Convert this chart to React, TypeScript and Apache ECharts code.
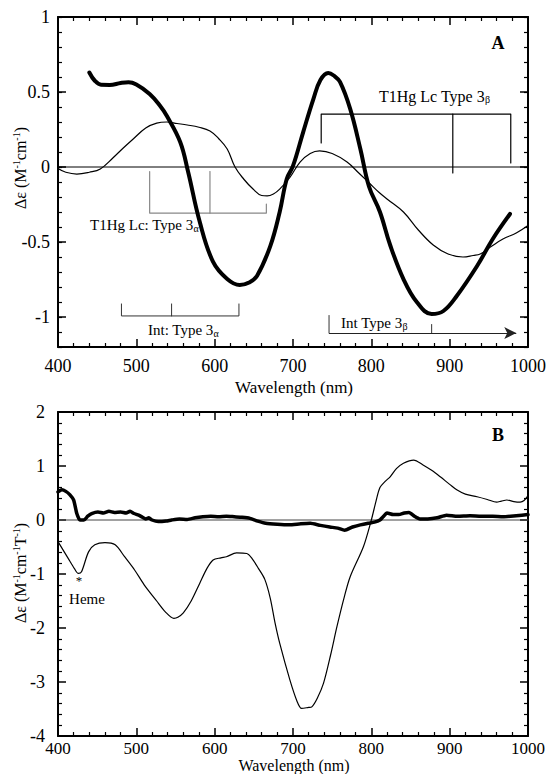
import React, { useEffect, useRef } from "react";
import * as echarts from "echarts";

// ---------- Data ----------
const xTicks = [400, 500, 600, 700, 800, 900, 1000];
const yTicksA = [-1, -0.5, 0, 0.5, 1];

// Panel A: thick curve
const thickA: number[][] = [
  [440, 0.63], [447, 0.575], [455, 0.548], [466, 0.547], [480, 0.56], [490, 0.565], [500, 0.55],
  [517, 0.487], [530, 0.41], [539, 0.34], [556, 0.167], [566, -0.03], [581, -0.367], [598, -0.633],
  [616, -0.747], [632, -0.787], [644, -0.77], [654, -0.727], [671, -0.527], [683, -0.3], [692, -0.08],
  [700, 0.007], [713, 0.233], [726, 0.453], [735, 0.58], [745, 0.627], [752, 0.61], [760, 0.567],
  [773, 0.387], [786, 0.12], [797, -0.13], [811, -0.3], [824, -0.52], [841, -0.747], [858, -0.9],
  [877, -0.98], [892, -0.96], [909, -0.86], [935, -0.66], [955, -0.48], [977, -0.313],
];

// Panel A: thin curve
const thinA: number[][] = [
  [400, -0.01], [410, -0.035], [424, -0.047], [440, -0.035], [454, -0.013], [470, 0.06], [484, 0.13],
  [496, 0.187], [512, 0.26], [526, 0.293], [539, 0.3], [552, 0.29], [565, 0.28], [580, 0.265],
  [594, 0.24], [605, 0.19], [616, 0.12], [626, 0.0], [637, -0.08], [649, -0.147], [660, -0.19],
  [667, -0.193], [675, -0.18], [683, -0.147], [696, -0.07], [709, 0.033], [722, 0.09], [734, 0.107],
  [750, 0.09], [769, 0.033], [784, -0.04], [798, -0.11], [810, -0.17], [820, -0.213], [841, -0.3],
  [860, -0.42], [879, -0.52], [898, -0.58], [917, -0.6], [930, -0.59], [939, -0.58], [953, -0.53],
  [968, -0.48], [985, -0.44], [1000, -0.39],
];

// Panel B: thin curve
const thinB: number[][] = [
  [400, -0.4], [413, -0.71], [421, -0.9], [426, -0.99], [430, -0.96], [439, -0.59], [447, -0.46],
  [460, -0.42], [473, -0.46], [485, -0.68], [498, -0.93], [510, -1.2], [526, -1.5], [537, -1.7],
  [548, -1.82], [553, -1.8], [560, -1.72], [570, -1.5], [581, -1.17], [590, -0.9], [598, -0.74],
  [608, -0.7], [615, -0.68], [628, -0.61], [641, -0.62], [648, -0.72], [656, -0.9], [664, -1.1],
  [671, -1.45], [677, -1.9], [683, -2.28], [696, -2.96], [705, -3.35], [711, -3.49],
  [720, -3.47], [724, -3.46], [731, -3.3], [739, -3.02], [748, -2.5], [756, -1.98], [765, -1.45],
  [773, -1.05], [790, -0.49], [800, 0], [806, 0.35], [811, 0.6], [818, 0.72], [824, 0.8], [832, 0.95],
  [841, 1.05], [854, 1.11], [866, 1.02], [877, 0.92], [888, 0.8], [900, 0.66], [909, 0.56], [920, 0.48],
  [935, 0.43], [948, 0.38], [960, 0.33], [966, 0.35], [973, 0.37], [982, 0.34], [990, 0.33],
  [995, 0.36], [1000, 0.45],
];

// Panel B: thick curve
const thickB: number[][] = [
  [400, 0.52], [405, 0.56], [410, 0.53], [415, 0.47], [420, 0.37], [424, 0.12], [428, 0.0], [433, 0.0],
  [438, 0.07], [443, 0.12], [451, 0.15], [458, 0.13], [465, 0.16], [472, 0.14], [480, 0.15], [487, 0.13],
  [492, 0.16], [497, 0.12], [503, 0.09], [508, 0.05], [512, 0.02], [516, 0.04], [520, 0.0], [528, -0.03],
  [538, -0.02], [545, 0.0], [555, 0.02], [565, 0.01], [575, 0.04], [585, 0.06], [595, 0.07], [605, 0.06],
  [615, 0.07], [625, 0.06], [635, 0.05], [645, 0.03], [655, -0.02], [665, -0.06], [680, -0.08],
  [695, -0.09], [710, -0.07], [722, -0.06], [735, -0.1], [747, -0.13], [757, -0.15], [766, -0.19],
  [776, -0.13], [786, -0.09], [796, -0.06], [804, -0.04], [811, 0.0], [815, 0.06], [820, 0.13],
  [828, 0.1], [835, 0.1], [842, 0.13], [848, 0.14], [855, 0.07], [862, 0.02], [872, 0.02], [884, 0.04],
  [896, 0.09], [910, 0.07], [926, 0.08], [940, 0.07], [955, 0.07], [968, 0.06], [985, 0.08], [1000, 0.1],
];

const zeroLine: number[][] = [[400, 0], [1000, 0]];

// Annotation brackets (panel A, data coordinates)
const lcBeta: number[][] = [[736, 0.16], [736, 0.353], [978, 0.353], [978, 0.027]];
const lcBetaMid: number[][] = [[904, 0.353], [904, -0.04]];
const lcAlpha: number[][] = [[517, -0.03], [517, -0.307], [666, -0.307], [666, -0.247]];
const lcAlphaMid: number[][] = [[594, -0.03], [594, -0.307]];
const intAlpha: number[][] = [[481, -0.913], [481, -0.993], [631, -0.993], [631, -0.913]];
const intAlphaMid: number[][] = [[545, -0.913], [545, -0.993]];
const intBetaLeft: number[][] = [[746, -0.99], [746, -1.107]];
const intBetaMid: number[][] = [[877, -1.05], [877, -1.107]];
const intBetaArrow: number[][] = [[746, -1.107], [985, -1.107]];

const FONT = "Times New Roman, Liberation Serif, serif";

export default function App() {
  const ref = useRef<HTMLDivElement>(null);

  useEffect(() => {
    if (!ref.current) return;
    const chart = echarts.init(ref.current, null, { renderer: "svg" });

    const xAx = (grid: number, pos: "bottom" | "top", labels: boolean, margin: number, size = 18) => ({
      type: "value",
      gridIndex: grid,
      position: pos,
      min: xTicks[0],
      max: xTicks[xTicks.length - 1],
      interval: 100,
      axisLine: { show: true, onZero: false, lineStyle: { color: "#000", width: 2 } },
      axisTick: { show: true, inside: true, length: 8, lineStyle: { color: "#000", width: 1.5 } },
      minorTick: { show: true, splitNumber: 5, length: 4, lineStyle: { color: "#000", width: 1.2 } },
      axisLabel: {
        show: labels,
        color: "#000",
        fontFamily: FONT,
        fontSize: size,
        margin,
        formatter: (v: number) => String(v),
      },
      splitLine: { show: false },
    });

    const yAxA = (pos: "left" | "right", labels: boolean) => ({
      type: "value",
      gridIndex: 0,
      position: pos,
      min: -1.2,
      max: 1,
      axisLine: { show: true, onZero: false, lineStyle: { color: "#000", width: 2 } },
      axisTick: { show: true, inside: true, length: 8, customValues: yTicksA, lineStyle: { color: "#000", width: 1.5 } },
      axisLabel: {
        show: labels,
        customValues: yTicksA,
        color: "#000",
        fontFamily: FONT,
        fontSize: 18,
        margin: 8,
        formatter: (v: number) => String(v),
      },
      splitLine: { show: false },
    });
    const yAxAMinor = (pos: "left" | "right") => ({
      type: "value",
      gridIndex: 0,
      position: pos,
      min: -1.2,
      max: 1,
      interval: 0.1,
      axisLine: { show: false },
      axisTick: { show: true, inside: true, length: 4, lineStyle: { color: "#000", width: 1.2 } },
      axisLabel: { show: false },
      splitLine: { show: false },
    });
    const yAxB = (pos: "left" | "right", labels: boolean) => ({
      type: "value",
      gridIndex: 1,
      position: pos,
      min: -4,
      max: 2,
      interval: 1,
      axisLine: { show: true, onZero: false, lineStyle: { color: "#000", width: 2 } },
      axisTick: { show: true, inside: true, length: 8, lineStyle: { color: "#000", width: 1.5 } },
      minorTick: { show: true, splitNumber: 5, length: 4, lineStyle: { color: "#000", width: 1.2 } },
      axisLabel: { show: labels, color: "#000", fontFamily: FONT, fontSize: 18, margin: 13 },
      splitLine: { show: false },
    });

    const line = (data: number[][], xi: number, yi: number, width: number, color = "#000", smooth: boolean | number = false, z = 3) => ({
      type: "line",
      xAxisIndex: xi,
      yAxisIndex: yi,
      data,
      symbol: "none",
      smooth,
      silent: true,
      z,
      lineStyle: { color, width, cap: "round", join: "round" },
    });

    const sub = { fontSize: 10, fontFamily: FONT, color: "#000", verticalAlign: "bottom", padding: [7, 0, 0, 0] };
    const sup = { fontSize: 10, fontFamily: FONT, color: "#000", verticalAlign: "top", padding: [0, 0, 7, 0] };
    const norm = (size: number) => ({ fontSize: size, fontFamily: FONT, color: "#000" });

    const txt = (x: number, y: number, text: string, size: number, align = "left", extra: any = {}) => ({
      type: "text",
      x,
      y,
      silent: true,
      rotation: extra.rotation || 0,
      style: {
        text,
        fill: "#000",
        fontFamily: FONT,
        fontSize: size,
        fontWeight: extra.bold ? "bold" : "normal",
        align,
        verticalAlign: "middle",
        rich: { n: norm(size), s: sub, p: sup },
      },
    });

    chart.setOption({
      animation: false,
      backgroundColor: "#fff",
      grid: [
        { left: 58, top: 17, width: 470, height: 330 },
        { left: 58, top: 412, width: 470, height: 324 },
      ],
      xAxis: [
        xAx(0, "bottom", true, 10),
        xAx(0, "top", false, 8),
        xAx(1, "bottom", true, 4, 17),
        xAx(1, "top", false, 8),
      ],
      yAxis: [
        yAxA("left", true),
        yAxAMinor("left"),
        yAxA("right", false),
        yAxAMinor("right"),
        yAxB("left", true),
        yAxB("right", false),
      ],
      series: [
        line(zeroLine, 0, 0, 1, "#000", false, 2),
        line(thinA, 0, 0, 1.2, "#000", 0.4),
        line(thickA, 0, 0, 4, "#000", 0.4, 4),
        line(lcBeta, 0, 0, 1.2),
        line(lcBetaMid, 0, 0, 1.2),
        line(lcAlpha, 0, 0, 1.2, "#888"),
        line(lcAlphaMid, 0, 0, 1.2, "#888"),
        line(intAlpha, 0, 0, 1, "#333"),
        line(intAlphaMid, 0, 0, 1, "#333"),
        line(intBetaLeft, 0, 0, 1, "#333"),
        line(intBetaMid, 0, 0, 1, "#333"),
        {
          type: "line",
          xAxisIndex: 0,
          yAxisIndex: 0,
          data: [],
          silent: true,
          markLine: {
            silent: true,
            symbol: ["none", "arrow"],
            symbolSize: [9, 12],
            label: { show: false },
            lineStyle: { color: "#222", width: 1.2, type: "solid" },
            data: [[{ coord: intBetaArrow[0] }, { coord: intBetaArrow[1] }]],
          },
        },
        line(zeroLine, 2, 4, 1, "#444", false, 2),
        line(thinB, 2, 4, 1.2, "#000", 0.3),
        line(thickB, 2, 4, 3.5, "#000", 0.2, 4),
      ],
      graphic: [
        txt(498, 43, "A", 18, "center", { bold: true }),
        txt(498, 435, "B", 18, "center", { bold: true }),
        txt(379, 96, "{n|T1Hg Lc Type 3}{s|β}", 16),
        txt(90, 225, "{n|T1Hg Lc: Type 3}{s|α}", 15),
        txt(148, 330, "{n|Int: Type 3}{s|α}", 15),
        txt(341, 323, "{n|Int Type 3}{s|β}", 15),
        txt(79, 580, "*", 13, "center"),
        txt(87, 599, "Heme", 15, "center"),
        txt(294, 387, "Wavelength (nm)", 17, "center"),
        txt(294, 765, "Wavelength (nm)", 16, "center"),
        txt(20, 168, "{n|Δε (M}{p|-1}{n|cm}{p|-1}{n|)}", 16, "center", { rotation: Math.PI / 2 }),
        txt(20, 573, "{n|Δε (M}{p|-1}{n|cm}{p|-1}{n|T}{p|-1}{n|)}", 16, "center", { rotation: Math.PI / 2 }),
      ],
    });

    return () => chart.dispose();
  }, []);

  return (
    <div
      ref={ref}
      style={{ position: "absolute", left: 0, top: 0, width: 549, height: 774, background: "#fff" }}
    />
  );
}
